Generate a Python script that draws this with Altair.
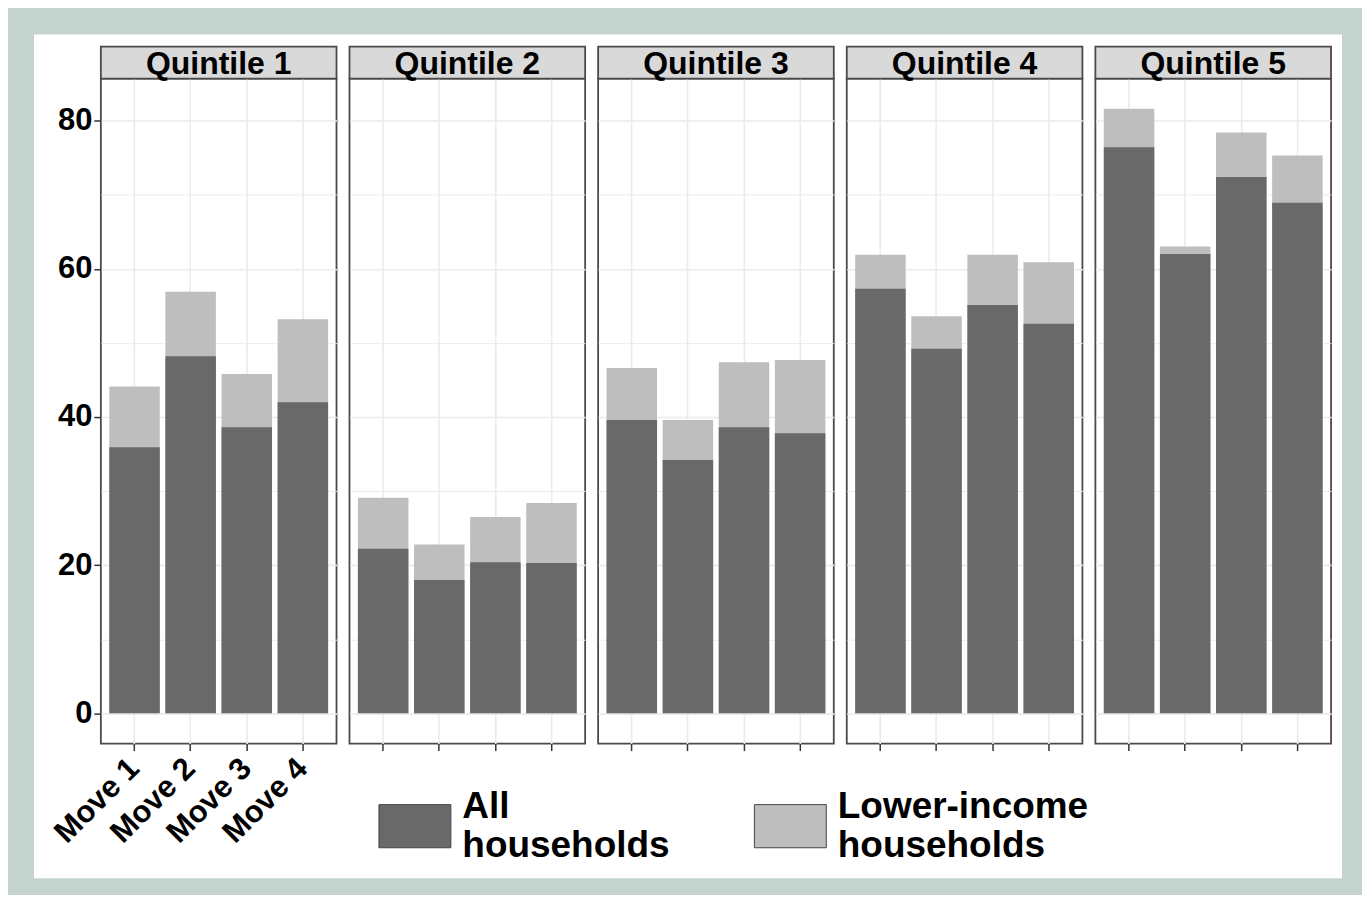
import altair as alt
import pandas as pd

quintiles = ["Quintile 1", "Quintile 2", "Quintile 3", "Quintile 4", "Quintile 5"]
moves = ["Move 1", "Move 2", "Move 3", "Move 4"]
series_names = ["All households", "Lower-income households"]
all_households = [
    [35.9, 48.2, 38.6, 42.0],
    [22.2, 18.0, 20.4, 20.3],
    [39.6, 34.2, 38.6, 37.8],
    [57.3, 49.2, 55.1, 52.6],
    [76.4, 62.0, 72.4, 68.9],
]
lower_income = [
    [44.1, 56.9, 45.8, 53.2],
    [29.1, 22.8, 26.5, 28.4],
    [46.6, 39.6, 47.4, 47.7],
    [61.9, 53.6, 61.9, 60.9],
    [81.6, 63.0, 78.4, 75.3],
]
y_grid_values = [0, 10, 20, 30, 40, 50, 60, 70, 80]

rows = []
for qi, q in enumerate(quintiles):
    for mi, m in enumerate(moves):
        rows.append({"quintile": q, "move": m, "series": series_names[0], "value": all_households[qi][mi]})
        rows.append({"quintile": q, "move": m, "series": series_names[1], "value": lower_income[qi][mi]})
df = pd.DataFrame(rows)

FONT = "Liberation Sans"
PW, PH, STRIP = 236, 666, 32
DARK, LIGHT = "#696969", "#bebebe"
BORDER = "#4a4a4a"
GRID = "#ebebeb"
major = "datum.value % 20 == 0"

color_scale = alt.Scale(domain=series_names, range=[DARK, LIGHT])
legend = alt.Legend(
    title=None, orient="none", legendX=292, legendY=712, direction="horizontal",
    columns=2, symbolType="M-1,-0.6H1V0.6H-1Z", symbolSize=5184,
    symbolStrokeColor="#444444", symbolStrokeWidth=1, symbolOpacity=1,
    labelFont=FONT, labelFontSize=37, labelFontWeight="bold", labelColor="black",
    labelBaseline="bottom",
    labelOffset=11, labelLimit=600, columnPadding=82, padding=0,
    labelExpr="datum.label == 'All households' ? ['All', 'households'] : ['Lower-income', 'households']",
)


def panel(i):
    q = quintiles[i]
    first = i == 0
    sub = df[df.quintile == q]
    x_axis = alt.Axis(
        title=None, labels=first, labelAngle=-45, labelAlign="right", labelBaseline="middle",
        labelFont=FONT, labelFontSize=31, labelFontWeight="bold", labelColor="black",
        labelPadding=13, ticks=True, tickSize=7, tickColor="#333333", tickWidth=1.5,
        domain=False, grid=True, gridColor=GRID, gridWidth=1.6,
        bandPosition=0.5, tickBand="center",
    )
    if first:
        y_axis = alt.Axis(
            title=None, values=y_grid_values,
            labelExpr="datum.value % 20 == 0 ? datum.label : ''",
            labelFont=FONT, labelFontSize=31, labelFontWeight="bold", labelColor="black",
            labelPadding=2, tickSize=7, tickColor="#333333", tickWidth=1.5,
            tickOpacity={"condition": {"test": major, "value": 1}, "value": 0},
            domain=False, grid=True, gridColor=GRID,
            gridWidth={"condition": {"test": major, "value": 1.6}, "value": 1.0},
        )
    else:
        y_axis = alt.Axis(
            title=None, values=y_grid_values, labels=False, ticks=False, domain=False,
            grid=True, gridColor=GRID,
            gridWidth={"condition": {"test": major, "value": 1.6}, "value": 1.0},
        )
    x = alt.X("move:N", sort=moves,
              scale=alt.Scale(domain=moves, paddingInner=0.1, paddingOuter=0.15), axis=x_axis)
    y = alt.Y("value:Q", scale=alt.Scale(domain=[-4.08, 85.68], nice=False), axis=y_axis)
    color = alt.Color("series:N", scale=color_scale, legend=legend)
    base = alt.Chart(sub)
    light = base.transform_filter(alt.datum.series == series_names[1]).mark_bar().encode(
        x=x, y=y, y2=alt.datum(0), color=color)
    dark = base.transform_filter(alt.datum.series == series_names[0]).mark_bar().encode(
        x=x, y=y, y2=alt.datum(0), color=color)
    strip_data = alt.Data(values=[{"label": q}])
    strip_rect = alt.Chart(strip_data).mark_rect(
        fill="#d9d9d9", stroke=BORDER, strokeWidth=1.8).encode(
        x=alt.value(0), x2=alt.value(PW), y=alt.value(-STRIP), y2=alt.value(0))
    strip_text = alt.Chart(strip_data).mark_text(
        font=FONT, fontSize=32, fontWeight="bold", color="black", baseline="middle").encode(
        x=alt.value(PW / 2), y=alt.value(-STRIP / 2 + 1), text="label:N")
    return alt.layer(light, dark, strip_rect, strip_text).properties(
        width=PW, height=PH,
        view=alt.ViewBackground(stroke=BORDER, strokeWidth=1.8),
    )


bg = alt.Chart(alt.Data(values=[{"a": 1}])).mark_rect(fill="white").encode(
    x=alt.value(-53), x2=alt.value(1257), y=alt.value(-44), y2=alt.value(801)
).properties(width=1, height=1, view=alt.ViewBackground(stroke="transparent"))

chart = alt.hconcat(bg, *[panel(i) for i in range(5)], spacing=13, bounds="flush").properties(
    padding={"left": 25, "top": 25, "right": 19, "bottom": 15},
    background="#c5d4ce",
).configure(font=FONT)

chart.save("out.html", embed_options={"renderer": "svg", "actions": False})
